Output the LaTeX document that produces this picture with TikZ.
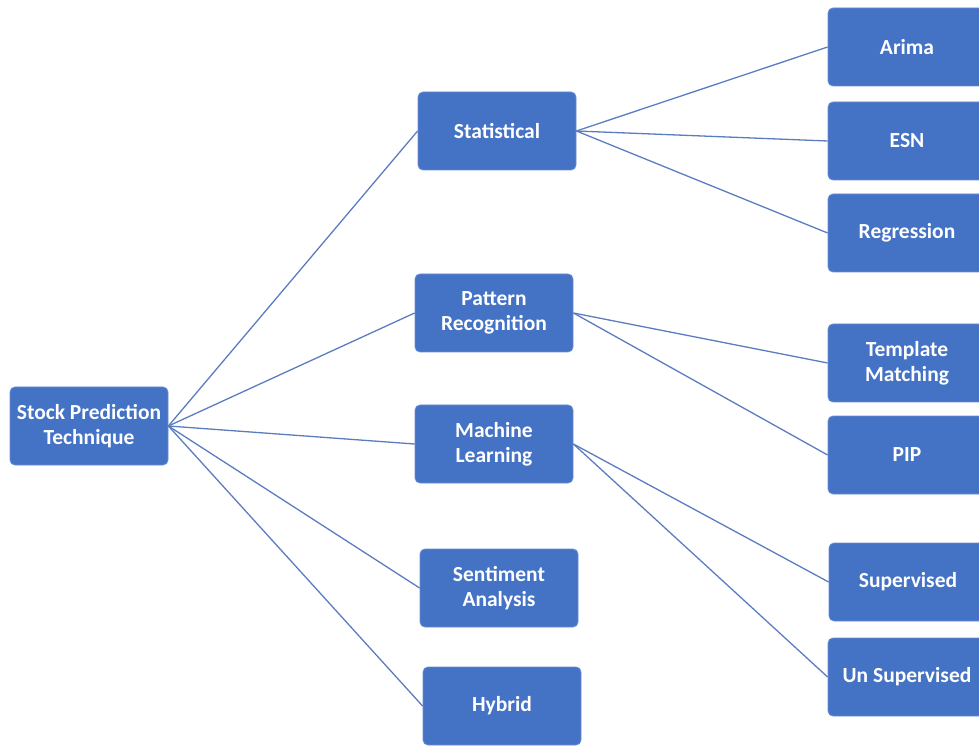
\documentclass[tikz,border=0pt]{standalone}
\usepackage{fontspec}
\setmainfont{Carlito}
\definecolor{boxblue}{HTML}{4472C4}
\definecolor{edgeblue}{HTML}{5B7DC0}
\begin{document}
\begin{tikzpicture}[x=1pt,y=1pt,
  box/.style={draw=boxblue!80!white, line width=0.8pt, fill=boxblue, rounded corners=5pt,
    minimum width=158pt, minimum height=78pt, inner sep=0pt,
    text=white, font=\fontsize{21.5}{25}\selectfont\bfseries, align=center},
  link/.style={draw=edgeblue, line width=1.3pt}]
\useasboundingbox (0,0) rectangle (979,745);
% root
\node[box] (root) at (89,319) {Stock Prediction\\Technique};
% first level
\node[box] (stat) at (497,614) {Statistical};
\node[box] (pat)  at (494,432) {Pattern\\Recognition};
\node[box] (ml)   at (494,301) {Machine\\Learning};
\node[box] (sent) at (499,157) {Sentiment\\Analysis};
\node[box] (hyb)  at (502,39)  {Hybrid};
% second level
\node[box] (ari)  at (907,698) {Arima};
\node[box] (esn)  at (907,604) {ESN};
\node[box] (reg)  at (907,512) {Regression};
\node[box] (tmp)  at (907,382) {Template\\Matching};
\node[box] (pip)  at (907,290) {PIP};
\node[box] (sup)  at (908,163) {Supervised};
\node[box] (uns)  at (907,68)  {Un Supervised};
% connectors
\foreach \c in {stat,pat,ml,sent,hyb} \draw[link] (root.east) -- (\c.west);
\foreach \c in {ari,esn,reg} \draw[link] (stat.east) -- (\c.west);
\foreach \c in {tmp,pip} \draw[link] (pat.east) -- (\c.west);
\foreach \c in {sup,uns} \draw[link] (ml.east) -- (\c.west);
\end{tikzpicture}
\end{document}
